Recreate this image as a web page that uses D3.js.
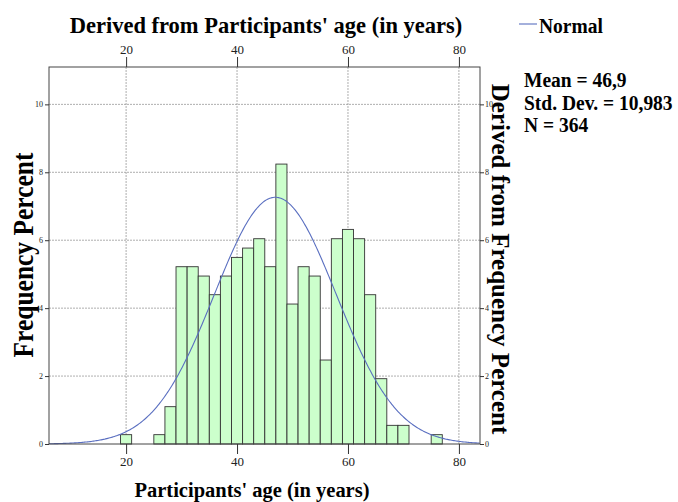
<!DOCTYPE html>
<html>
<head>
  <meta charset="utf-8">
  <title>Histogram</title>
  <script src="https://d3js.org/d3.v7.min.js"></script>
  <style>
    body { margin: 0; background: #fff; }
    text { font-family: "Liberation Serif", "Times New Roman", serif; }
  </style>
</head>
<body>
<script>
    // bins of width 2, starting at odd ages
    var binStart = [19, 21, 23, 25, 27, 29, 31, 33, 35, 37, 39, 41, 43, 45, 47, 49, 51, 53, 55, 57, 59, 61, 63, 65, 67, 69, 71, 73, 75];
    var binCount = [1, 0, 0, 1, 4, 19, 19, 18, 16, 18, 20, 21, 22, 19, 30, 15, 19, 18, 9, 22, 23, 22, 16, 7, 2, 2, 0, 0, 1];
    var xTicks = [20, 40, 60, 80];
    var yTicks = [0, 2, 4, 6, 8, 10];
    var N = 364, mean = 46.9, sd = 10.983, binWidth = 2;
    var statLines = ["Mean = 46,9", "Std. Dev. = 10,983", "N = 364"];

    var w = 678, h = 502;
    var pLeft = 49, pRight = 480, pTop = 67, pBottom = 444;

    var x = d3.scaleLinear().domain([6.1, 83.8]).range([pLeft, pRight]);
    var y = d3.scaleLinear().domain([0, 11.1]).range([pBottom, pTop]);

    var svg = d3.select("body").append("svg").attr("width", w).attr("height", h);

    // grid
    svg.append("g").selectAll("line").data(yTicks.filter(function(d){return d > 0;})).enter().append("line")
      .attr("x1", pLeft).attr("x2", pRight)
      .attr("y1", function(d){return y(d);}).attr("y2", function(d){return y(d);})
      .attr("stroke", "#999").attr("stroke-dasharray", "2,1").attr("stroke-width", 0.8);
    svg.append("g").selectAll("line").data(xTicks).enter().append("line")
      .attr("x1", function(d){return x(d);}).attr("x2", function(d){return x(d);})
      .attr("y1", pTop).attr("y2", pBottom)
      .attr("stroke", "#999").attr("stroke-dasharray", "2,1").attr("stroke-width", 0.8);

    // bars
    var bins = binStart.map(function(s, i){ return {x0: s, x1: s + binWidth, pct: binCount[i] / N * 100}; })
      .filter(function(d){ return d.pct > 0; });
    svg.append("g").selectAll("rect").data(bins).enter().append("rect")
      .attr("x", function(d){return x(d.x0);})
      .attr("width", function(d){return x(d.x1) - x(d.x0);})
      .attr("y", function(d){return y(d.pct);})
      .attr("height", function(d){return y(0) - y(d.pct);})
      .attr("fill", "#ccffcc").attr("stroke", "#333").attr("stroke-width", 0.9);

    // normal curve scaled to percent per bin
    var curve = d3.range(6.1, 83.81, 0.2).map(function(v){
      var z = (v - mean) / sd;
      return [v, 100 * binWidth * Math.exp(-0.5 * z * z) / (sd * Math.sqrt(2 * Math.PI))];
    });
    svg.append("path").datum(curve)
      .attr("d", d3.line().x(function(d){return x(d[0]);}).y(function(d){return y(d[1]);}))
      .attr("fill", "none").attr("stroke", "#5a6fc0").attr("stroke-width", 1.1);

    // frame
    svg.append("rect").attr("x", pLeft).attr("y", pTop).attr("width", pRight - pLeft).attr("height", pBottom - pTop)
      .attr("fill", "none").attr("stroke", "#444").attr("stroke-width", 1);

    // axes
    var yl = svg.append("g").attr("transform", "translate(" + pLeft + ",0)")
      .call(d3.axisLeft(y).tickValues(yTicks).tickSize(4).tickPadding(2));
    var yr = svg.append("g").attr("transform", "translate(" + pRight + ",0)")
      .call(d3.axisRight(y).tickValues(yTicks).tickSize(4).tickPadding(1));
    var xb = svg.append("g").attr("transform", "translate(0," + pBottom + ")")
      .call(d3.axisBottom(x).tickValues(xTicks).tickSize(10).tickPadding(3));
    var xt = svg.append("g").attr("transform", "translate(0," + pTop + ")")
      .call(d3.axisTop(x).tickValues(xTicks).tickSize(10).tickPadding(3));
    [yl, yr, xb, xt].forEach(function(g){
      g.select(".domain").remove();
      g.selectAll("line").attr("stroke", "#333");
      g.selectAll("text").attr("fill", "#222").style("font-family", "Liberation Serif, serif");
    });
    yl.selectAll("text").attr("font-size", 8);
    yr.selectAll("text").attr("font-size", 8);
    xb.selectAll("text").attr("font-size", 13);
    xt.selectAll("text").attr("font-size", 13);

    // titles (the original type is a bit taller than wide)
    svg.append("text").attr("transform", "translate(266,33) scale(1,1.07)").attr("text-anchor", "middle")
      .attr("font-size", 22.5).attr("font-weight", "bold").text("Derived from Participants' age (in years)");
    svg.append("text").attr("transform", "translate(252,497) scale(1,1.07)").attr("text-anchor", "middle")
      .attr("font-size", 20.5).attr("font-weight", "bold").text("Participants' age (in years)");
    svg.append("text").attr("transform", "translate(33,255) rotate(-90) scale(1,1.15)").attr("text-anchor", "middle")
      .attr("font-size", 25.5).attr("font-weight", "bold").text("Frequency Percent");
    svg.append("text").attr("transform", "translate(492,259) rotate(90)").attr("text-anchor", "middle")
      .attr("font-size", 25).attr("font-weight", "bold").text("Derived from Frequency Percent");

    // legend
    svg.append("line").attr("x1", 519).attr("x2", 537).attr("y1", 24).attr("y2", 24)
      .attr("stroke", "#5a6fc0").attr("stroke-width", 1.1);
    svg.append("text").attr("transform", "translate(539,33) scale(1,1.08)")
      .attr("font-size", 19.5).attr("font-weight", "bold").text("Normal");
    svg.append("g").selectAll("text").data(statLines).enter().append("text")
      .attr("transform", function(d, i){return "translate(524," + (87 + i * 22.5) + ") scale(1,1.08)";})
      .attr("font-size", 19.5).attr("font-weight", "bold").text(function(d){return d;});
</script>
</body>
</html>
